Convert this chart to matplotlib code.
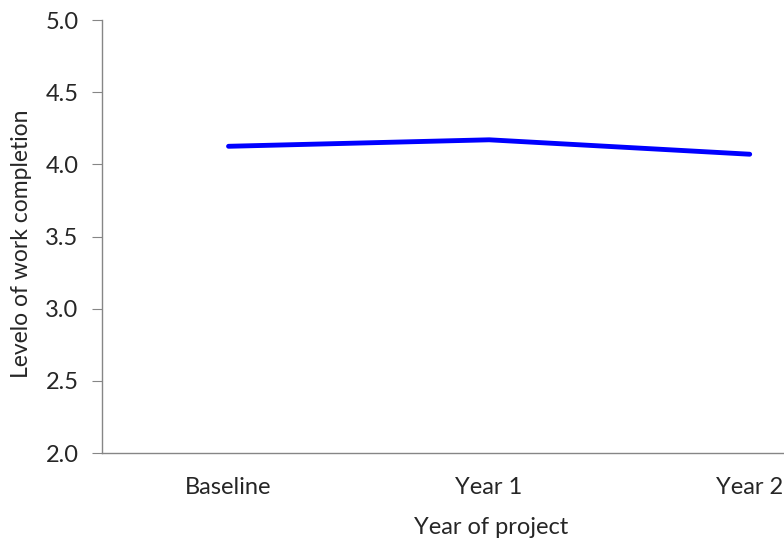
import matplotlib
matplotlib.use('Agg')
import matplotlib.pyplot as plt

categories = ['Baseline', 'Year 1', 'Year 2']
values = [4.125, 4.17, 4.07]
y_ticks = [2.0, 2.5, 3.0, 3.5, 4.0, 4.5, 5.0]

plt.rcParams['font.family'] = ['Lato', 'DejaVu Sans']

fig = plt.figure(figsize=(7.84, 5.45), dpi=100)
# the original chart is clipped on the right, so the axes run past the figure edge
ax = fig.add_axes([102 / 784, 0.1688, 778 / 784, 0.7945])

x = list(range(len(categories)))
ax.plot(x, values, color='#0000ff', linewidth=3.5, solid_capstyle='round')

ax.set_xlim(-0.4856, 2.5)
ax.set_ylim(2.0, 5.0)
ax.set_xticks(x)
ax.set_xticklabels(categories)
ax.set_yticks(y_ticks)
ax.set_yticklabels([f'{v:.1f}' for v in y_ticks])

for side in ['top', 'right']:
    ax.spines[side].set_visible(False)
for side in ['left', 'bottom']:
    ax.spines[side].set_color('#868686')
    ax.spines[side].set_linewidth(1.0)

ax.tick_params(axis='y', direction='out', length=7, color='#868686', labelsize=17, labelcolor='#262626', pad=10)
ax.tick_params(axis='x', length=0, labelsize=17, labelcolor='#262626', pad=17)

ax.set_ylabel('Levelo of work completion', fontsize=16.5, color='#262626')
ax.yaxis.set_label_coords(-0.09, 0.483)
fig.text(491 / 784, 1 - 527 / 545, 'Year of project', fontsize=17, color='#262626', ha='center', va='center')

fig.savefig('out.png', dpi=100)
